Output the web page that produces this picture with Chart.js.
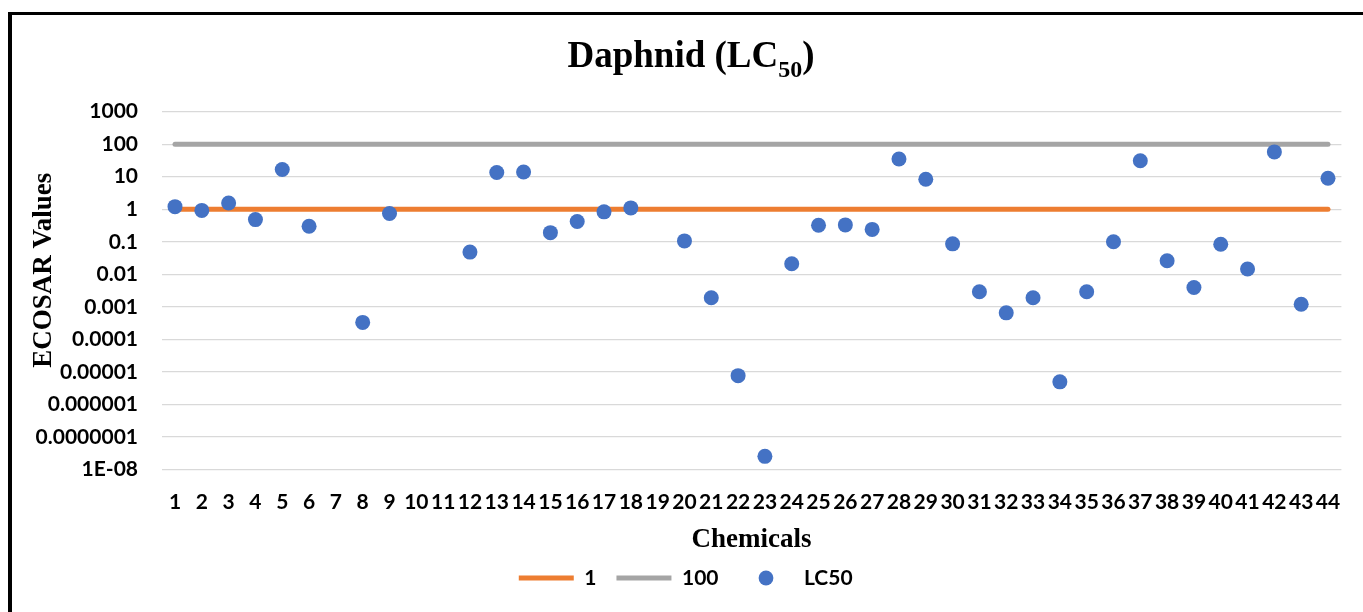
<!DOCTYPE html>
<html>
<head>
<meta charset="utf-8">
<script src="https://cdn.jsdelivr.net/npm/chart.js@4.4.1/dist/chart.umd.min.js"></script>
<style>
  html, body { margin: 0; padding: 0; background: #fff; overflow: hidden; }
  #frame {
    position: absolute; left: 8px; top: 12px; width: 2000px; height: 1000px;
    border-left: 4px solid #000; border-top: 3px solid #000;
  }
  #title {
    position: absolute; left: 491px; top: 36px; width: 400px; text-align: center;
    font-family: 'Liberation Serif', 'Times New Roman', serif; font-weight: bold;
    font-size: 37px; line-height: 37px; color: #000; white-space: nowrap;
  }
  #title span { font-size: 24px; line-height: 1; vertical-align: -10px; }
  #wrap { position: absolute; left: 0; top: 0; width: 1363px; height: 612px; }
</style>
</head>
<body>
<div id="frame"></div>
<div id="wrap"><canvas id="chart"></canvas></div>
<div id="title">Daphnid (LC<span>50</span>)</div>
<script>
// DATA

const chemicals = [
  '1', '2', '3', '4', '5', '6', '7', '8', '9', '10', '11',
  '12', '13', '14', '15', '16', '17', '18', '19', '20', '21', '22',
  '23', '24', '25', '26', '27', '28', '29', '30', '31', '32', '33',
  '34', '35', '36', '37', '38', '39', '40', '41', '42', '43', '44',
];

const lc50 = [
  1.2, 0.92, 1.55, 0.48, 16.6, 0.3, null, 0.00033, 0.74, null, null,
  0.048, 13.5, 14, 0.19, 0.42, 0.83, 1.1, null, 0.106, 0.0019, 0.0000076,
  0.000000025, 0.021, 0.32, 0.33, 0.24, 35, 8.4, 0.086, 0.0029, 0.00065, 0.0019,
  0.0000049, 0.0029, 0.1, 31, 0.026, 0.0039, 0.084, 0.0145, 58, 0.0012, 9,
];

const limitOne = [
  1, 1, 1, 1, 1, 1, 1, 1, 1, 1, 1,
  1, 1, 1, 1, 1, 1, 1, 1, 1, 1, 1,
  1, 1, 1, 1, 1, 1, 1, 1, 1, 1, 1,
  1, 1, 1, 1, 1, 1, 1, 1, 1, 1, 1,
];

const limitHundred = [
  100, 100, 100, 100, 100, 100, 100, 100, 100, 100, 100,
  100, 100, 100, 100, 100, 100, 100, 100, 100, 100, 100,
  100, 100, 100, 100, 100, 100, 100, 100, 100, 100, 100,
  100, 100, 100, 100, 100, 100, 100, 100, 100, 100, 100,
];

const yTickValues = [1e-8, 1e-7, 1e-6, 1e-5, 1e-4, 1e-3, 1e-2, 1e-1, 1, 10, 100, 1000];
const yTickLabels = [
  '1E-08', '0.0000001', '0.000001', '0.00001', '0.0001', '0.001',
  '0.01', '0.1', '1', '10', '100', '1000',
];

// CHART

const tickFont = { family: 'Lato', weight: 'bold', size: 21 };
const axisTitleFont = { family: 'Liberation Serif', weight: 'bold', size: 27, lineHeight: 0.4 };

// legend key for the scatter series
const dot = document.createElement('canvas');
dot.width = 16;
dot.height = 16;
const dctx = dot.getContext('2d');
dctx.fillStyle = '#4472C4';
dctx.beginPath();
dctx.arc(8, 8, 7.4, 0, Math.PI * 2);
dctx.fill();

Chart.defaults.color = '#000';

const chart = new Chart(document.querySelector('#chart'), {
  type: 'line',
  data: {
    labels: chemicals,
    datasets: [
      {
        label: '1',
        data: limitOne,
        borderColor: '#ED7D31',
        backgroundColor: '#ED7D31',
        borderWidth: 5,
        borderCapStyle: 'round',
        pointRadius: 0,
        order: 2,
      },
      {
        label: '100',
        data: limitHundred,
        borderColor: '#A5A5A5',
        backgroundColor: '#A5A5A5',
        borderWidth: 5,
        borderCapStyle: 'round',
        pointRadius: 0,
        order: 3,
      },
      {
        label: 'LC50',
        data: lc50,
        showLine: false,
        borderColor: '#4472C4',
        backgroundColor: '#4472C4',
        pointRadius: 7.5,
        pointBorderWidth: 0,
        order: 1,
      },
    ],
  },
  options: {
    responsive: true,
    maintainAspectRatio: false,
    animation: false,
    layout: {
      padding: { left: 30, right: 21.6, top: 111.7, bottom: 13.5 },
    },
    plugins: {
      tooltip: { enabled: false },
      legend: {
        position: 'bottom',
        labels: {
          usePointStyle: true,
          pointStyleWidth: 55,
          padding: 20,
          font: { family: 'Lato', weight: 'bold', size: 21 },
          sort: (a, b) => a.datasetIndex - b.datasetIndex,
          generateLabels: (c) => {
            const items = Chart.defaults.plugins.legend.labels.generateLabels(c);
            items.forEach((item) => {
              item.pointStyle = item.datasetIndex === 2 ? dot : 'line';
            });
            return items;
          },
        },
      },
    },
    scales: {
      x: {
        offset: true,
        grid: { display: false },
        border: { display: false },
        ticks: {
          font: tickFont,
          padding: 12,
          autoSkip: false,
          maxRotation: 0,
        },
        title: {
          display: true,
          text: 'Chemicals',
          font: axisTitleFont,
          padding: { top: 0, bottom: 2 },
        },
        afterFit: (axis) => {
          axis.height = 78.2;
        },
      },
      y: {
        type: 'logarithmic',
        min: 1e-8,
        max: 1000,
        border: { display: false },
        grid: { color: '#D9D9D9', lineWidth: 1.3, drawTicks: false },
        ticks: {
          font: tickFont,
          padding: 23.6,
          callback: (value, index) => yTickLabels[index],
        },
        afterBuildTicks: (axis) => {
          axis.ticks = yTickValues.map((v) => ({ value: v }));
        },
        title: {
          display: true,
          // leading spaces lift the label a little above the axis middle
          text: '\u00a0\u00a0\u00a0\u00a0\u00a0\u00a0ECOSAR Values',
          font: axisTitleFont,
          padding: { top: 8.6, bottom: 0 },
        },
        afterFit: (axis) => {
          axis.width = 131.6;
        },
      },
    },
  },
});
</script>
</body>
</html>
